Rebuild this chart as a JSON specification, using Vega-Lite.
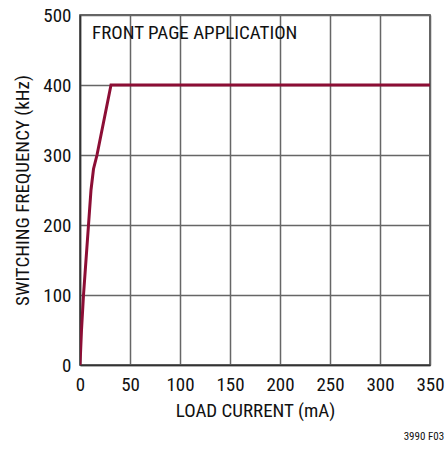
{
  "$schema": "https://vega.github.io/schema/vega-lite/v6.json",
  "width": 350,
  "height": 350,
  "autosize": {"type": "none"},
  "padding": {"left": 80, "top": 15, "right": 16, "bottom": 84},
  "background": "white",
  "config": {
    "font": "Roboto Condensed, DejaVu Sans Condensed, Roboto, sans-serif",
    "view": {"stroke": "#333333", "strokeWidth": 1.5},
    "axis": {
      "grid": true,
      "gridColor": "#666666",
      "gridWidth": 1.5,
      "gridOpacity": 1,
      "domainColor": "#333333",
      "domainWidth": 1.5,
      "ticks": false,
      "labelFont": "Roboto Condensed, DejaVu Sans Condensed, Roboto, sans-serif",
      "labelFontSize": 19,
      "labelColor": "#111111",
      "titleFont": "Roboto Condensed, DejaVu Sans Condensed, Roboto, sans-serif",
      "titleFontSize": 19,
      "titleFontWeight": "normal",
      "titleColor": "#111111"
    }
  },
  "title": {
    "text": "3990 F03",
    "orient": "bottom",
    "anchor": "end",
    "font": "Roboto Condensed, DejaVu Sans Condensed, Roboto, sans-serif",
    "fontSize": 11,
    "fontWeight": "normal",
    "color": "#111111",
    "offset": 11
  },
  "layer": [
    {
      "data": {
        "values": [
          {"current": 0, "freq": 0},
          {"current": 1.5, "freq": 50},
          {"current": 3.5, "freq": 100},
          {"current": 6, "freq": 150},
          {"current": 8.5, "freq": 200},
          {"current": 11, "freq": 250},
          {"current": 13.5, "freq": 280},
          {"current": 17, "freq": 300},
          {"current": 31, "freq": 400},
          {"current": 350, "freq": 400}
        ]
      },
      "mark": {"type": "line", "color": "#8C0E35", "strokeWidth": 3, "clip": true},
      "encoding": {
        "x": {
          "field": "current",
          "type": "quantitative",
          "scale": {"domain": [0, 350], "nice": false, "zero": true},
          "axis": {"values": [0, 50, 100, 150, 200, 250, 300, 350], "title": "LOAD CURRENT (mA)", "labelPadding": 10, "titlePadding": 7, "labelFlush": false}
        },
        "y": {
          "field": "freq",
          "type": "quantitative",
          "scale": {"domain": [0, 500], "nice": false},
          "axis": {"values": [0, 100, 200, 300, 400, 500], "title": "SWITCHING FREQUENCY (kHz)", "labelPadding": 9, "titlePadding": 10, "labelFlush": false}
        }
      }
    },
    {
      "data": {"values": [{"current": 4, "freq": 475, "label": "FRONT PAGE APPLICATION"}]},
      "mark": {"type": "text", "align": "left", "baseline": "middle", "font": "Roboto Condensed, DejaVu Sans Condensed, Roboto, sans-serif", "fontSize": 19, "color": "#111111", "dx": 8},
      "encoding": {
        "x": {"field": "current", "type": "quantitative"},
        "y": {"field": "freq", "type": "quantitative"},
        "text": {"field": "label"}
      }
    }
  ]
}
